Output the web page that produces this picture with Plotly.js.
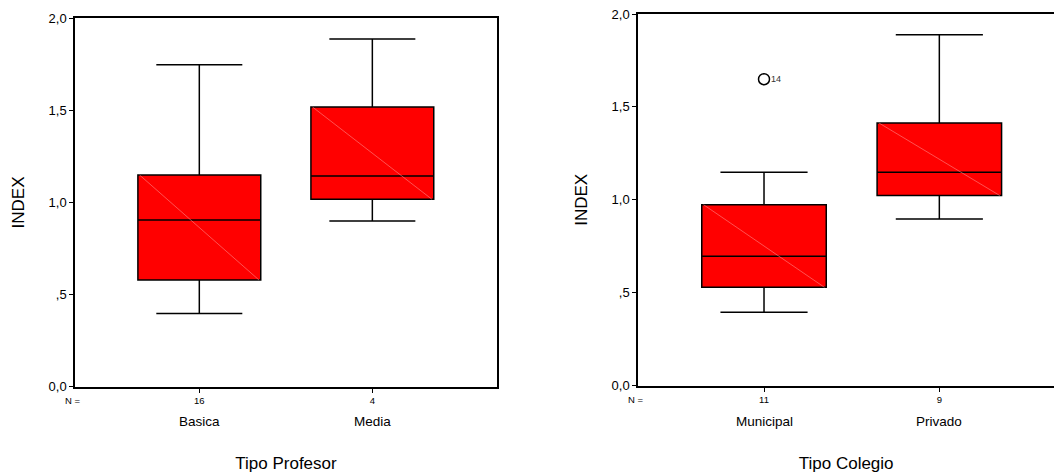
<!DOCTYPE html>
<html>
<head>
<meta charset="utf-8">
<script src="https://cdn.plot.ly/plotly-3.0.1.min.js"></script>
<style>html,body{margin:0;padding:0;background:#fff;}#chart{width:1054px;height:473px;}</style>
</head>
<body>
<div id="chart"></div>
<script>
// Panel 1: Tipo Profesor
const profCats = ["Basica", "Media"];
const profN = ["16", "4"];
const profLower = [0.398, 0.900];
const profQ1 = [0.579, 1.017];
const profMedian = [0.905, 1.144];
const profQ3 = [1.149, 1.518];
const profUpper = [1.748, 1.888];

// Panel 2: Tipo Colegio
const colCats = ["Municipal", "Privado"];
const colN = ["11", "9"];
const colLower = [0.395, 0.897];
const colQ1 = [0.529, 1.023];
const colMedian = [0.696, 1.148];
const colQ3 = [0.974, 1.414];
const colUpper = [1.148, 1.889];
const colOutlierIdx = [0];
const colOutlierVal = [1.649];
const colOutlierLabel = ["14"];

const yTickVals = [0, 0.5, 1.0, 1.5, 2.0];
const yTickText = ["0,0", ",5", "1,0", "1,5", "2,0"];

const FONT = "Liberation Sans, Arial, sans-serif";
const BOXW = 0.71;

function boxTrace(cats, lo, q1, med, q3, hi, xa, ya) {
  return {
    type: "box", x: cats.map((c, i) => i), q1: q1, median: med, q3: q3,
    lowerfence: lo, upperfence: hi,
    xaxis: xa, yaxis: ya,
    fillcolor: "#ff0000",
    line: {color: "#000000", width: 1.5},
    width: BOXW, whiskerwidth: 0.7,
    boxpoints: false, showlegend: false, hoverinfo: "skip"
  };
}
function diagTraces(cats, q1, q3, xa, ya) {
  // faint diagonal inside each box (SPSS fill artifact)
  return cats.map((c, i) => ({
    type: "scatter", mode: "lines",
    x: [i - BOXW / 2 + 0.01, i + BOXW / 2 - 0.01], y: [q3[i], q1[i]],
    xaxis: xa, yaxis: ya,
    line: {color: "rgba(255,150,150,0.9)", width: 0.6},
    showlegend: false, hoverinfo: "skip"
  }));
}

const data = [
  boxTrace(profCats, profLower, profQ1, profMedian, profQ3, profUpper, "x", "y"),
  boxTrace(colCats, colLower, colQ1, colMedian, colQ3, colUpper, "x2", "y2"),
  ...diagTraces(profCats, profQ1, profQ3, "x", "y"),
  ...diagTraces(colCats, colQ1, colQ3, "x2", "y2"),
  {
    type: "scatter", mode: "markers",
    x: colOutlierIdx, y: colOutlierVal,
    xaxis: "x2", yaxis: "y2",
    marker: {symbol: "circle-open", size: 11, color: "#000", line: {width: 1.5, color: "#000"}},
    showlegend: false, hoverinfo: "skip", cliponaxis: false
  }
];

function xAxis(cats, nLabels, range, domain, title, anchor, mirror) {
  return {
    type: "linear", range: range, domain: domain,
    anchor: anchor, tickmode: "array", tickvals: cats.map((c, i) => i), ticktext: nLabels,
    ticks: "outside", ticklen: 4, tickwidth: 1, tickcolor: "#000",
    tickfont: {family: FONT, size: 9.5, color: "#000"},
    showline: true, linecolor: "#000", linewidth: 2, mirror: mirror,
    showgrid: false, zeroline: false, fixedrange: true,
    title: {text: title, font: {family: FONT, size: 17, color: "#000"}, standoff: 54}
  };
}
function yAxis(domain, anchor, mirror) {
  return {
    range: [0, 2], domain: domain, anchor: anchor,
    tickmode: "array", tickvals: yTickVals, ticktext: yTickText,
    ticks: "outside", ticklen: 4, tickwidth: 1, tickcolor: "#000",
    tickfont: {family: FONT, size: 13, color: "#000"},
    showline: true, linecolor: "#000", linewidth: 2, mirror: mirror,
    showgrid: false, zeroline: false, fixedrange: true,
    title: {text: "INDEX", font: {family: FONT, size: 17, color: "#000"}, standoff: 20}
  };
}

const layout = {
  width: 1054, height: 473,
  margin: {l: 0, r: 0, t: 0, b: 0},
  paper_bgcolor: "#fff", plot_bgcolor: "#fff",
  font: {family: FONT, color: "#000"},
  xaxis: xAxis(profCats, profN, [-0.717, 1.719], [0.0714, 0.4713], "Tipo Profesor", "y", true),
  yaxis: yAxis([0.1825, 0.9613], "x", true),
  xaxis2: xAxis(colCats, colN, [-0.717, 1.654], [0.6056, 1.0], "Tipo Colegio", "y2", true),
  yaxis2: yAxis([0.1846, 0.9704], "x2", false),
  annotations: [
    ...profCats.map((c, i) => ({xref: "x", yref: "paper", x: i, y: (473 - 421) / 473, text: c,
      showarrow: false, yanchor: "middle", font: {family: FONT, size: 13.5, color: "#000"}})),
    ...colCats.map((c, i) => ({xref: "x2", yref: "paper", x: i, y: (473 - 421) / 473, text: c,
      showarrow: false, yanchor: "middle", font: {family: FONT, size: 13.5, color: "#000"}})),
    ...colOutlierIdx.map((xi, k) => ({xref: "x2", yref: "y2", x: xi, y: colOutlierVal[k],
      text: colOutlierLabel[k], showarrow: false, xanchor: "left", yanchor: "middle", xshift: 5,
      font: {family: FONT, size: 9, color: "#333"}})),
    {xref: "paper", yref: "paper", x: 73 / 1054, y: (473 - 400) / 473, text: "N =", showarrow: false,
      xanchor: "center", yanchor: "middle", font: {family: FONT, size: 9.5, color: "#000"}},
    {xref: "paper", yref: "paper", x: 636 / 1054, y: (473 - 399) / 473, text: "N =", showarrow: false,
      xanchor: "center", yanchor: "middle", font: {family: FONT, size: 9.5, color: "#000"}}
  ]
};

Plotly.newPlot("chart", data, layout, {staticPlot: true, displayModeBar: false});
</script>
</body>
</html>
